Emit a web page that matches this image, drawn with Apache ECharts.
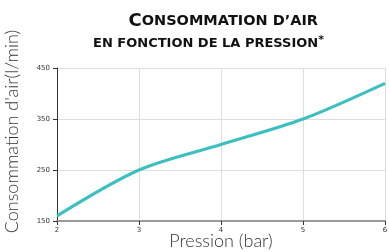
<!DOCTYPE html>
<html><head><meta charset="utf-8">
<script src="https://cdn.jsdelivr.net/npm/echarts@6/dist/echarts.min.js"></script>
<style>html,body{margin:0;padding:0;background:#fff}#c{width:389px;height:252px}</style>
</head><body><div id="c"></div>
<script>
const pressure = [2, 3, 4, 5, 6];
const consumption = [160, 250, 300, 350, 420];
const yTicks = [150, 250, 350, 450];
const xTicks = [2, 3, 4, 5, 6];

const F = 'Lato';
const T = 'DejaVu Sans';
const chart = echarts.init(document.getElementById('c'), null, {renderer: 'canvas'});
chart.setOption({
  animation: false,
  backgroundColor: '#fff',
  title: [{
    right: 66, top: 6,
    text: '{big|C}{sm|ONSOMMATION D’AIR}',
    textStyle: {
      rich: {
        big: {fontFamily: T, fontWeight: 'bold', fontSize: 18, color: '#111', lineHeight: 20},
        sm: {fontFamily: T, fontWeight: 'bold', fontSize: 14.5, color: '#111', lineHeight: 20}
      }
    }
  }, {
    right: 60, top: 29,
    text: '{sm|EN FONCTION DE LA PRESSION}{sup|*}',
    textStyle: {
      rich: {
        sm: {fontFamily: T, fontWeight: 'bold', fontSize: 13, color: '#111', lineHeight: 20},
        sup: {fontFamily: T, fontWeight: 'bold', fontSize: 11, color: '#111', lineHeight: 20, padding: [0,0,8,0]}
      }
    }
  }],
  grid: {left: 57, right: 4, top: 68, bottom: 31, outerBoundsMode: 'none', containLabel: false},
  xAxis: {
    type: 'value', min: xTicks[0], max: xTicks[xTicks.length-1], interval: 1,
    name: 'Pression (bar)', nameLocation: 'middle', nameGap: 11, nameMoveOverlap: false,
    nameTextStyle: {fontFamily: F, fontSize: 18, color: '#333', fontWeight: 300},
    axisLine: {lineStyle: {color: '#999', width: 2}},
    axisTick: {show: true, length: 4, lineStyle: {color: '#333'}},
    axisLabel: {fontSize: 7, color: '#333', margin: 6, fontFamily: 'DejaVu Sans'},
    splitLine: {show: true, lineStyle: {color: '#ddd'}}
  },
  yAxis: {
    type: 'value', min: yTicks[0], max: yTicks[yTicks.length-1], interval: 100,
    name: "Consommation d'air(l/min)", nameLocation: 'middle', nameGap: 36, nameMoveOverlap: false,
    nameTextStyle: {fontFamily: F, fontSize: 18, color: '#333', fontWeight: 300, padding: [0,0,0,26]},
    axisLine: {show: true, lineStyle: {color: '#333', width: 1}},
    axisTick: {show: true, length: 4, lineStyle: {color: '#333'}},
    axisLabel: {fontSize: 7, color: '#333', margin: 7, fontFamily: 'DejaVu Sans'},
    splitLine: {show: true, lineStyle: {color: '#ddd'}}
  },
  series: [{
    type: 'line',
    data: pressure.map((p, i) => [p, consumption[i]]),
    smooth: 0.3,
    showSymbol: false,
    lineStyle: {color: '#3dbfbf', width: 3},
    itemStyle: {color: '#3dbfbf'}
  }]
});
</script></body></html>
